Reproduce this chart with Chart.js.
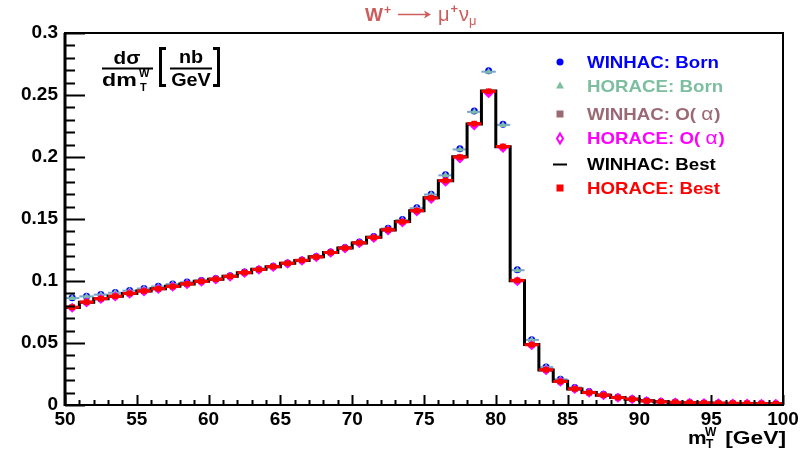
<!DOCTYPE html>
<html>
<head>
<meta charset="utf-8">
<script src="https://cdn.jsdelivr.net/npm/chart.js@4.4.1/dist/chart.umd.min.js"></script>
<style>
body { margin: 0; background: #fff; }
#wrap { width: 810px; height: 449px; position: relative; }
</style>
</head>
<body>
<div id="wrap"><canvas id="chartMy"></canvas></div>
<script>
var binEdges = [50,51,52,53,54,55,56,57,58,59,60,61,62,63,64,65,66,67,68,69,70,
                71,72,73,74,75,76,77,78,79,80,81,82,83,84,85,86,87,88,89,90,
                91,92,93,94,95,96,97,98,99,100];
var xTicks = [50,55,60,65,70,75,80,85,90,95,100];
var yTicks = [0,0.05,0.1,0.15,0.2,0.25,0.3];

var winhacBorn = [0.0865,0.0877,0.0891,0.0907,0.0924,0.0940,0.0958,0.0976,0.0992,0.1005,
                  0.1020,0.1042,0.1072,0.1095,0.1118,0.1145,0.1170,0.1197,0.1234,0.1271,
                  0.1314,0.1359,0.1425,0.1495,0.1590,0.1700,0.1856,0.2066,0.2370,0.2695,
                  0.2264,0.1090,0.0527,0.0306,0.0208,0.0142,0.0108,0.0086,0.0065,0.0051,
                  0.0036,0.0028,0.0024,0.0020,0.0017,0.0016,0.0015,0.0013,0.0012,0.0011];
var horaceBorn = [0.0862,0.0876,0.0890,0.0905,0.0922,0.0939,0.0956,0.0975,0.0990,0.1004,
                  0.1019,0.1041,0.1071,0.1094,0.1117,0.1144,0.1169,0.1196,0.1232,0.1270,
                  0.1312,0.1357,0.1423,0.1492,0.1587,0.1697,0.1852,0.2061,0.2364,0.2688,
                  0.2259,0.1087,0.0525,0.0305,0.0207,0.0141,0.0107,0.0085,0.0064,0.0050,
                  0.0036,0.0028,0.0023,0.0020,0.0017,0.0016,0.0014,0.0013,0.0012,0.0011];
var winhacOa = [0.0786,0.0828,0.0856,0.0875,0.0898,0.0917,0.0936,0.0955,0.0975,0.0995,
                0.1013,0.1036,0.1066,0.1091,0.1114,0.1141,0.1165,0.1192,0.1228,0.1264,
                0.1305,0.1349,0.1410,0.1475,0.1563,0.1665,0.1804,0.1993,0.2260,0.2520,
                0.2077,0.1000,0.0484,0.0282,0.0189,0.0129,0.0100,0.0079,0.0060,0.0046,
                0.0033,0.0026,0.0021,0.0019,0.0016,0.0015,0.0013,0.0012,0.0011,0.0010];
var horaceOa = [0.0784,0.0826,0.0854,0.0874,0.0897,0.0916,0.0935,0.0953,0.0974,0.0994,
                0.1012,0.1035,0.1065,0.1090,0.1113,0.1140,0.1164,0.1191,0.1227,0.1262,
                0.1304,0.1347,0.1408,0.1472,0.1560,0.1662,0.1800,0.1988,0.2254,0.2515,
                0.2072,0.0998,0.0482,0.0281,0.0188,0.0129,0.0099,0.0079,0.0059,0.0046,
                0.0033,0.0025,0.0021,0.0018,0.0016,0.0014,0.0013,0.0012,0.0011,0.0010];
var winhacBest = [0.0787,0.0829,0.0857,0.0878,0.0899,0.0920,0.0937,0.0957,0.0976,0.0998,
                  0.1014,0.1039,0.1067,0.1094,0.1115,0.1144,0.1166,0.1195,0.1229,0.1267,
                  0.1307,0.1352,0.1412,0.1479,0.1566,0.1671,0.1808,0.2002,0.2267,0.2532,
                  0.2083,0.1003,0.0487,0.0283,0.0191,0.0129,0.0101,0.0079,0.0061,0.0046,
                  0.0034,0.0026,0.0021,0.0019,0.0017,0.0015,0.0013,0.0013,0.0011,0.0010];
var horaceBest = [0.0789,0.0830,0.0858,0.0877,0.0900,0.0919,0.0938,0.0956,0.0977,0.0997,
                  0.1015,0.1038,0.1068,0.1093,0.1116,0.1143,0.1167,0.1194,0.1230,0.1266,
                  0.1308,0.1351,0.1413,0.1478,0.1567,0.1670,0.1810,0.2000,0.2269,0.2530,
                  0.2085,0.1005,0.0486,0.0284,0.0190,0.0130,0.0100,0.0080,0.0060,0.0047,
                  0.0033,0.0026,0.0022,0.0019,0.0016,0.0015,0.0014,0.0013,0.0011,0.0010];

var FONT = '"Liberation Sans", Arial, Helvetica, sans-serif';

var toPoints = function (vals) {
     return vals.map(function (v, i) {
          return { x: (binEdges[i] + binEdges[i + 1]) / 2, y: v };
     });
}
var toSteps = function (vals) {
     var pts = vals.map(function (v, i) { return { x: binEdges[i], y: v }; });
     pts.push({ x: binEdges[vals.length], y: vals[vals.length - 1] });
     return pts;
}

var drawText = function (ctx, txt, x, y, size, color, opt) {
     opt = opt || {};
     var sx = opt.sx || 1;
     ctx.save();
     ctx.font = (opt.weight || 'bold') + ' ' + size + 'px ' + FONT;
     ctx.fillStyle = color;
     ctx.textBaseline = 'alphabetic';
     var w = ctx.measureText(txt).width * sx;
     if (opt.align === 'center') x -= w / 2;
     if (opt.align === 'right') x -= w;
     ctx.translate(x, y);
     ctx.scale(sx, 1);
     ctx.fillText(txt, 0, 0);
     ctx.restore();
     return w;
}

// horizontal bin-width bars, drawn under the markers of the same dataset
var errBars = {
     id: 'errBars',
     beforeDatasetDraw: function (chart, args) {
          var ds = chart.data.datasets[args.index];
          if (!ds.xErrColor) return;
          var ctx = chart.ctx, xs = chart.scales.x, ys = chart.scales.y;
          ctx.save();
          ctx.strokeStyle = ds.xErrColor;
          ctx.lineWidth = ds.xErrWidth;
          ds.data.forEach(function (p, i) {
               var y = ys.getPixelForValue(p.y);
               ctx.beginPath();
               ctx.moveTo(xs.getPixelForValue(binEdges[i]), y);
               ctx.lineTo(xs.getPixelForValue(binEdges[i + 1]), y);
               ctx.stroke();
          });
          ctx.restore();
     }
};

// ROOT style frame with inside ticks
var frame = {
     id: 'frame',
     afterDatasetsDraw: function (chart) {
          var ctx = chart.ctx, a = chart.chartArea, xs = chart.scales.x, ys = chart.scales.y;
          ctx.save();
          ctx.strokeStyle = '#000';
          ctx.lineWidth = 2;
          ctx.strokeRect(a.left, a.top, a.right - a.left, a.bottom - a.top);
          ctx.lineWidth = 3;
          ctx.beginPath();
          ctx.moveTo(a.left, a.top); ctx.lineTo(a.left, a.bottom + 1);
          ctx.stroke();
          ctx.lineWidth = 2;
          ctx.beginPath();
          var v, p, k;
          for (k = 0; k <= 30; k++) {
               v = k / 100;
               p = Math.round(ys.getPixelForValue(v)) + 0.5;
               ctx.moveTo(a.left, p);
               ctx.lineTo(a.left + (k % 5 === 0 ? 20 : 10), p);
          }
          for (k = binEdges[0]; k <= binEdges[binEdges.length - 1]; k++) {
               p = Math.round(xs.getPixelForValue(k)) + 0.5;
               ctx.moveTo(p, a.bottom);
               ctx.lineTo(p, a.bottom - (k % 5 === 0 ? 10 : 5));
          }
          ctx.stroke();
          ctx.restore();
     },
     afterDraw: function (chart) {
          var ctx = chart.ctx;
          // title
          var tc = 'rgb(205,92,92)';
          var x = 365, by = 21;
          x += drawText(ctx, 'W', x, by, 19, tc);
          x += drawText(ctx, '+', x + 1, by - 7, 12, tc) + 8;
          ctx.save();
          ctx.strokeStyle = tc;
          ctx.fillStyle = tc;
          ctx.lineWidth = 1.5;
          ctx.beginPath();
          ctx.moveTo(x, by - 6.5); ctx.lineTo(x + 30, by - 6.5);
          ctx.stroke();
          ctx.beginPath();
          ctx.moveTo(x + 33, by - 6.5); ctx.lineTo(x + 26, by - 10.5); ctx.lineTo(x + 28, by - 6.5); ctx.lineTo(x + 26, by - 2.5); ctx.closePath();
          ctx.fill();
          ctx.restore();
          x += 40;
          x += drawText(ctx, '\u03bc', x, by, 20, tc, { weight: 'normal' });
          x += drawText(ctx, '+', x + 1, by - 8, 13, tc) + 2;
          x += drawText(ctx, '\u03bd', x, by, 20, tc, { weight: 'normal' });
          drawText(ctx, '\u03bc', x, by + 4, 13, tc, { weight: 'normal' });

          // y title
          ctx.save();
          ctx.strokeStyle = '#000';
          ctx.lineWidth = 2;
          ctx.beginPath();
          ctx.moveTo(102, 68.5); ctx.lineTo(153, 68.5);
          ctx.moveTo(170, 68.5); ctx.lineTo(212, 68.5);
          ctx.stroke();
          ctx.lineWidth = 3;
          ctx.beginPath();
          ctx.moveTo(166, 48.5); ctx.lineTo(160.5, 48.5); ctx.lineTo(160.5, 85.5); ctx.lineTo(166, 85.5);
          ctx.moveTo(213, 48.5); ctx.lineTo(218.5, 48.5); ctx.lineTo(218.5, 85.5); ctx.lineTo(213, 85.5);
          ctx.stroke();
          ctx.restore();
          drawText(ctx, 'd\u03c3', 127, 64, 18, '#000', { align: 'center', sx: 1.15 });
          drawText(ctx, 'dm', 102, 86, 19, '#000', { sx: 1.22 });
          drawText(ctx, 'W', 139, 77, 11, '#000');
          drawText(ctx, 'T', 140, 91, 11, '#000');
          drawText(ctx, 'nb', 191, 63, 18, '#000', { align: 'center', sx: 1.1 });
          drawText(ctx, 'GeV', 191, 86, 18, '#000', { align: 'center', sx: 1.1 });

          // x title
          drawText(ctx, 'm', 688, 444, 19, '#000', { sx: 1.1 });
          drawText(ctx, 'W', 705, 436, 12, '#000');
          drawText(ctx, 'T', 706, 448, 12, '#000');
          drawText(ctx, '[GeV]', 786, 444, 19, '#000', { align: 'right', sx: 1.2 });

          // legend
          var lx = 560, tx = 587;
          ctx.save();
          ctx.fillStyle = '#0000ff';
          ctx.beginPath(); ctx.arc(lx, 62, 3.5, 0, Math.PI * 2); ctx.fill();
          ctx.fillStyle = 'rgb(125,190,160)';
          ctx.beginPath(); ctx.moveTo(lx, 81.5); ctx.lineTo(lx + 4, 88.5); ctx.lineTo(lx - 4, 88.5); ctx.closePath(); ctx.fill();
          ctx.fillStyle = 'rgb(155,105,115)';
          ctx.fillRect(lx - 3.5, 110.5, 7, 7);
          ctx.strokeStyle = '#ff00ff'; ctx.lineWidth = 2;
          ctx.beginPath(); ctx.moveTo(lx, 133.5); ctx.lineTo(lx + 3, 138.5); ctx.lineTo(lx, 143.5); ctx.lineTo(lx - 3, 138.5); ctx.closePath(); ctx.stroke();
          ctx.strokeStyle = '#000';
          ctx.beginPath(); ctx.moveTo(lx - 7, 164.5); ctx.lineTo(lx + 7, 164.5); ctx.stroke();
          ctx.fillStyle = '#ff0000';
          ctx.fillRect(lx - 3.5, 184.5, 7, 7);
          ctx.restore();

          drawText(ctx, 'WINHAC: Born', tx, 68, 17, '#0000ff', { sx: 1.1 });
          drawText(ctx, 'HORACE: Born', tx, 92, 17, 'rgb(125,190,160)', { sx: 1.1 });
          var w = drawText(ctx, 'WINHAC: O( ', tx, 120, 17, 'rgb(155,105,115)', { sx: 1.1 });
          w += drawText(ctx, '\u03b1', tx + w, 120, 19, 'rgb(155,105,115)', { weight: 'normal', sx: 1.1 });
          drawText(ctx, ')', tx + w + 1, 120, 17, 'rgb(155,105,115)', { sx: 1.1 });
          w = drawText(ctx, 'HORACE: O( ', tx, 144, 17, '#ff00ff', { sx: 1.1 });
          w += drawText(ctx, '\u03b1', tx + w, 144, 19, '#ff00ff', { weight: 'normal', sx: 1.1 });
          drawText(ctx, ')', tx + w + 1, 144, 17, '#ff00ff', { sx: 1.1 });
          drawText(ctx, 'WINHAC: Best', tx, 170, 17, '#000', { sx: 1.1 });
          drawText(ctx, 'HORACE: Best', tx, 194, 17, '#ff0000', { sx: 1.1 });
     }
};

var config = {
     type: 'scatter',
     data: {
          datasets: [{
               label: 'HORACE: Best',
               data: toPoints(horaceBest),
               pointStyle: 'rect',
               pointRadius: 4,
               backgroundColor: '#ff0000',
               borderWidth: 0,
               xErrColor: '#ff0000',
               xErrWidth: 3,
               order: 1
          }, {
               label: 'HORACE: O(a)',
               data: toPoints(horaceOa),
               pointStyle: 'rectRot',
               pointRadius: 5,
               backgroundColor: '#ff00ff',
               borderWidth: 0,
               order: 2
          }, {
               label: 'WINHAC: O(a)',
               data: toPoints(winhacOa),
               pointStyle: 'rect',
               pointRadius: 4,
               backgroundColor: 'rgb(155,105,115)',
               borderWidth: 0,
               order: 3
          }, {
               label: 'WINHAC: Best',
               data: toSteps(winhacBest),
               showLine: true,
               stepped: 'before',
               borderColor: '#000',
               borderWidth: 3,
               pointRadius: 0,
               order: 4
          }, {
               label: 'HORACE: Born',
               data: toPoints(horaceBorn),
               pointStyle: 'triangle',
               pointRadius: 4,
               backgroundColor: 'rgb(125,190,160)',
               borderWidth: 0,
               xErrColor: 'rgb(120,165,205)',
               xErrWidth: 2,
               order: 5
          }, {
               label: 'WINHAC: Born',
               data: toPoints(winhacBorn),
               pointStyle: 'circle',
               pointRadius: 3.5,
               backgroundColor: '#0000ff',
               borderWidth: 0,
               order: 6
          }]
     },
     options: {
          responsive: true,
          maintainAspectRatio: false,
          animation: false,
          layout: { padding: { left: 0, right: 27, top: 33, bottom: 0 } },
          plugins: {
               legend: { display: false },
               tooltip: { enabled: false }
          },
          scales: {
               x: {
                    type: 'linear',
                    min: xTicks[0],
                    max: xTicks[xTicks.length - 1],
                    afterFit: function (s) { s.height = 44; },
                    afterBuildTicks: function (s) { s.ticks = xTicks.map(function (v) { return { value: v }; }); },
                    ticks: {
                         padding: 3,
                         maxRotation: 0,
                         color: '#000',
                         font: { family: FONT, size: 19, weight: 'bold' }
                    },
                    grid: { display: false, drawTicks: false },
                    border: { display: false }
               },
               y: {
                    min: yTicks[0],
                    max: yTicks[yTicks.length - 1],
                    afterFit: function (s) { s.width = 65; },
                    afterBuildTicks: function (s) { s.ticks = yTicks.map(function (v) { return { value: v }; }); },
                    ticks: {
                         padding: 7,
                         color: '#000',
                         font: { family: FONT, size: 19, weight: 'bold' },
                         callback: function (v) { return String(+v.toFixed(2)); }
                    },
                    grid: { display: false, drawTicks: false },
                    border: { display: false }
               }
          }
     },
     plugins: [errBars, frame]
};

window.onload = function () {
     var ctx = document.getElementById('chartMy').getContext('2d');
     window.myHist = new Chart(ctx, config);
};
</script>
</body>
</html>
